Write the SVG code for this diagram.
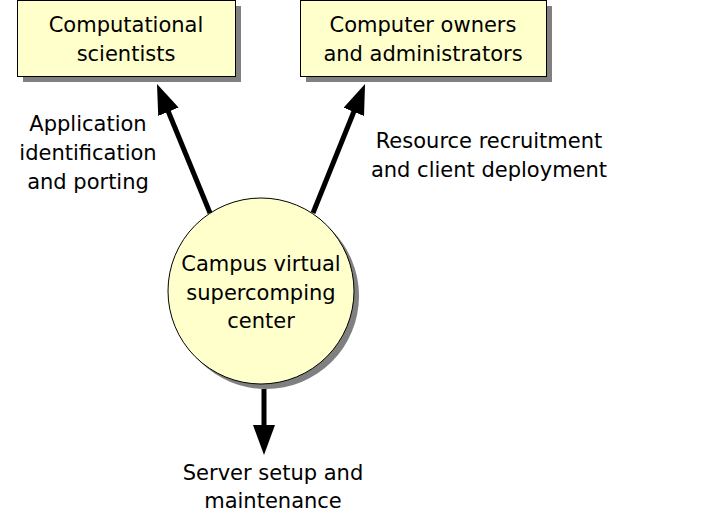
<svg xmlns="http://www.w3.org/2000/svg" width="711" height="525" viewBox="0 0 711 525">
<style>
.shadow{fill:#808080;stroke:none}
.node{fill:#ffffcc;stroke:#000;stroke-width:1}
text{font-family:"DejaVu Sans",Verdana,sans-serif;font-size:21px;fill:#000;text-anchor:middle}
.conn{stroke:#000;stroke-width:5;fill:none;marker-end:url(#ah)}
</style>
<defs>
<marker id="ah" markerUnits="userSpaceOnUse" markerWidth="30" markerHeight="22" refX="20" refY="11" orient="auto" viewBox="0 0 30 22">
<path d="M0,0 L30,11 L0,22 z" fill="#000"/>
</marker>
</defs>
<rect width="711" height="525" fill="#fff"/>
<g id="computational-scientists">
<rect class="shadow" x="23" y="6" width="218" height="76"/>
<rect class="node" x="17.5" y="0.5" width="218" height="76"/>
<text x="126" y="32">Computational</text>
<text x="126" y="61">scientists</text>
</g>
<g id="computer-owners">
<rect class="shadow" x="306" y="6" width="246" height="76"/>
<rect class="node" x="300.5" y="0.5" width="246" height="76"/>
<text x="423" y="32">Computer owners</text>
<text x="423" y="61">and administrators</text>
</g>
<g id="campus-center">
<circle class="shadow" cx="266" cy="296" r="93"/>
<circle class="node" cx="261" cy="291" r="93"/>
<text x="261" y="271">Campus virtual</text>
<text x="261" y="300">supercomping</text>
<text x="261" y="328">center</text>
</g>
<g id="connectors">
<line class="conn" x1="210" y1="213" x2="160.8" y2="93.3"/>
<line class="conn" x1="313" y1="213" x2="361.3" y2="93.3"/>
<line class="conn" x1="264" y1="389" x2="264" y2="445"/>
</g>
<g id="labels">
<text x="88" y="131">Application</text>
<text x="88" y="160">identification</text>
<text x="88" y="189">and porting</text>
<text x="489" y="148">Resource recruitment</text>
<text x="489" y="177">and client deployment</text>
<text x="273" y="480">Server setup and</text>
<text x="273" y="508">maintenance</text>
</g>
</svg>
